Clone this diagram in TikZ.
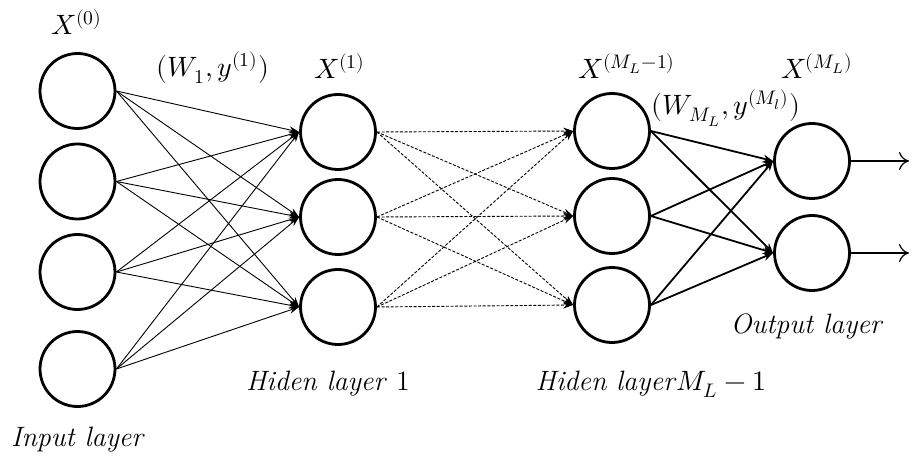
\documentclass[tikz,border=0pt]{standalone}
\usepackage{fontspec}
\usepackage{unicode-math}
\setmathfont{Latin Modern Math}
\usetikzlibrary{arrows.meta}
\begin{document}
\begin{tikzpicture}[x=0.5pt,y=-0.5pt,
  neuron/.style={circle,draw,line width=1.4pt,minimum size=37.5pt,inner sep=0pt},
  thinlink/.style={line width=0.45pt,-{Stealth[length=5pt,width=3.5pt]}},
  dashlink/.style={line width=0.45pt,dash pattern=on 1.5pt off 0.8pt,-{Stealth[length=5pt,width=3.5pt]}},
  thicklink/.style={line width=0.9pt,-{Stealth[length=5pt,width=4pt]}},
  outlink/.style={line width=0.6pt,-{To[length=5pt,width=9pt]}},
  lbl/.style={font=\fontsize{14}{16}\selectfont,inner sep=0pt}]
\useasboundingbox (0,0) rectangle (924,475);
% input layer
\node[neuron] (i1) at (77.5,91) {};
\node[neuron] (i2) at (77.5,181.5) {};
\node[neuron] (i3) at (77.5,272) {};
\node[neuron] (i4) at (77.5,369) {};
% hidden layer 1
\node[neuron] (h1) at (338,132) {};
\node[neuron] (h2) at (338,217) {};
\node[neuron] (h3) at (338,307) {};
% hidden layer M_L-1
\node[neuron] (m1) at (612,131) {};
\node[neuron] (m2) at (612,216) {};
\node[neuron] (m3) at (612,305) {};
% output layer
\node[neuron] (o1) at (812,161) {};
\node[neuron] (o2) at (812,253) {};
\coordinate (e1) at (909,161);
\coordinate (e2) at (909,253);
% connectors
\foreach \a in {i1,i2,i3,i4}
  \foreach \b in {h1,h2,h3}
    \draw[thinlink] (\a.east) -- (\b.west);
\foreach \a in {h1,h2,h3}
  \foreach \b in {m1,m2,m3}
    \draw[dashlink] (\a.east) -- (\b.west);
\foreach \a in {m1,m2,m3}
  \foreach \b in {o1,o2}
    \draw[thicklink] (\a.east) -- (\b.west);
\draw[outlink] (o1.east) -- (e1);
\draw[outlink] (o2.east) -- (e2);
% labels
\node[lbl] (l0) at (77,22) {$X^{(0)}$};
\node[lbl] (lw1) at (213,68) {$(W_1,y^{(1)})$};
\node[lbl] (l1) at (340,66) {$X^{(1)}$};
\node[lbl] (lm) at (627,66) {$X^{(M_L-1)}$};
\node[lbl] (lml) at (817,66) {$X^{(M_L)}$};
\node[lbl] (lwm) at (726,108) {$(W_{M_L},y^{(M_l)})$};
\node[lbl] (lout) at (807,326) {\textit{Output layer}};
\node[lbl] (lh1) at (328,384) {\textit{Hiden layer} 1};
\node[lbl] (lhm) at (651,384) {\textit{Hiden layer}$M_L-1$};
\node[lbl] (lin) at (78,440) {\textit{Input layer}};
\end{tikzpicture}
\end{document}
